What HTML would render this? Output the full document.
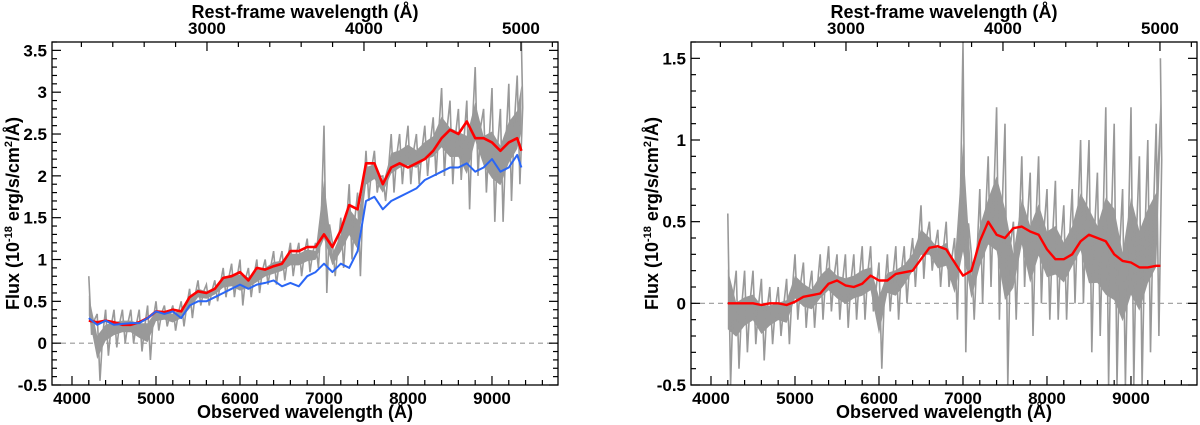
<!DOCTYPE html>
<html><head><meta charset="utf-8"><style>
body{margin:0;background:#fff;}
svg{display:block;font-family:"Liberation Sans",Arial,sans-serif;font-weight:bold;}
</style></head><body>
<svg id="c" width="1200" height="425" xmlns="http://www.w3.org/2000/svg"></svg>
<script>
// Left panel data (wavelength grid 4200..9300 step 100, then 9350 for lines)
const waves = [4200,4300,4400,4500,4600,4700,4800,4900,5000,5100,5200,5300,5400,5500,5600,5700,5800,5900,6000,6100,6200,6300,6400,6500,6600,6700,6800,6900,7000,7100,7200,7300,7400,7500,7600,7700,7800,7900,8000,8100,8200,8300,8400,8500,8600,8700,8800,8900,9000,9100,9200,9300];
const leftRed = [0.27,0.25,0.27,0.25,0.22,0.22,0.25,0.3,0.38,0.37,0.4,0.38,0.55,0.62,0.6,0.65,0.78,0.8,0.85,0.75,0.9,0.88,0.92,0.95,1.1,1.1,1.15,1.15,1.3,1.15,1.35,1.65,1.6,2.15,2.15,1.9,2.1,2.15,2.1,2.15,2.2,2.3,2.45,2.55,2.5,2.65,2.45,2.45,2.4,2.3,2.4,2.45];
const leftBlue = [0.3,0.22,0.27,0.22,0.23,0.24,0.24,0.3,0.38,0.35,0.38,0.3,0.45,0.5,0.5,0.55,0.6,0.65,0.7,0.65,0.7,0.72,0.75,0.68,0.72,0.68,0.8,0.85,0.95,0.85,0.95,0.9,1.1,1.7,1.75,1.6,1.7,1.75,1.8,1.85,1.95,2.0,2.05,2.1,2.1,2.15,2.05,2.1,2.2,2.05,2.1,2.25];
const leftRedEnd = 2.3, leftBlueEnd = 2.1;
const leftGrayUpper = [0.8,0.35,0.4,0.4,0.4,0.4,0.4,0.45,0.5,0.45,0.45,0.5,0.65,0.75,0.7,0.75,0.9,0.95,1.0,0.9,1.0,1.0,1.1,1.1,1.2,1.2,1.25,1.2,2.6,1.2,1.5,1.9,1.8,2.3,2.3,2.0,2.5,2.5,2.6,2.5,2.6,2.7,3.05,2.9,2.8,2.9,3.3,2.8,3.05,2.8,3.1,3.2,3.6];
const leftGrayLower = [0.1,-0.45,-0.15,-0.05,0.0,0.0,-0.1,-0.2,0.15,0.2,0.15,0.2,0.3,0.45,0.45,0.5,0.55,0.55,0.45,0.55,0.6,0.7,0.7,0.75,0.8,0.8,0.85,0.9,0.6,0.8,0.9,1.0,0.8,1.7,1.8,1.7,1.8,1.9,1.9,1.9,2.0,2.0,2.0,1.9,1.95,1.6,2.0,1.8,1.45,1.45,1.7,1.9,2.0];
// Right panel data
const rightRed = [0,0,0,0,-0.01,0,0,-0.01,0.01,0.04,0.05,0.06,0.12,0.14,0.11,0.1,0.12,0.17,0.14,0.14,0.18,0.19,0.2,0.27,0.34,0.35,0.33,0.25,0.17,0.2,0.38,0.5,0.42,0.4,0.46,0.47,0.44,0.42,0.33,0.27,0.27,0.3,0.38,0.42,0.4,0.38,0.3,0.26,0.25,0.22,0.22,0.23,0.24];
const rightRedEnd = 0.23;
const rightGrayUpper = [0.55,0.2,0.2,0.2,0.15,0.1,0.1,0.15,0.3,0.25,0.2,0.3,0.35,0.3,0.3,0.3,0.35,0.35,0.25,0.3,0.35,0.35,0.4,0.6,0.5,0.45,0.5,0.4,1.6,0.3,0.7,0.9,1.2,1.1,0.5,0.9,0.8,0.9,0.7,0.75,0.6,0.7,1.0,1.0,0.8,1.2,1.1,0.7,1.2,0.9,1.0,1.1,1.5];
const rightGrayLower = [-0.5,-0.4,-0.3,-0.25,-0.35,-0.25,-0.2,-0.25,-0.1,-0.15,-0.15,-0.1,-0.05,-0.1,-0.15,-0.1,-0.1,-0.05,-0.4,-0.05,-0.1,0.0,0.1,0.15,0.2,0.1,0.1,-0.1,-0.3,-0.1,0.0,0.1,-0.1,-0.5,-0.1,0.1,-0.2,0.0,-0.1,-0.1,-0.1,0.0,0.0,-0.3,-0.2,-0.5,-0.5,-0.5,-0.5,-0.5,-0.3,-0.2,0.7];
const xTicks = [4000,5000,6000,7000,8000,9000];
const restTicks = [3000,4000,5000];
const leftYTicks = [-0.5,0,0.5,1,1.5,2,2.5,3,3.5];
const leftYLabels = ["-0.5","0","0.5","1","1.5","2","2.5","3","3.5"];
const rightYTicks = [-0.5,0,0.5,1,1.5];
const rightYLabels = ["-0.5","0","0.5","1","1.5"];
const zfac = 1.869;

const NS="http://www.w3.org/2000/svg";
const svg=document.getElementById('c');
function mk(tag,attrs,parent){const e=document.createElementNS(NS,tag);for(const k in attrs)e.setAttribute(k,attrs[k]);(parent||svg).appendChild(e);return e;}

function panel(p){
  const g=mk('g',{});
  
  
  const L=p.L,R=p.R,T=42,B=385;
  const X=w=>L+(w-3762)/(9786-3762)*(R-L);
  const Y=v=>B-(v-p.ymin)/(p.ymax-p.ymin)*(B-T);
  const clip=mk('clipPath',{id:'clip'+p.L},g);mk('rect',{x:L,y:T,width:R-L,height:B-T},clip);
  const n=waves.length;
  const wv=i=>i<n?waves[i]:9350;
  // inner (dense) band: shrunk toward center
  let d='';
  for(let i=0;i<=n;i++){const u=p.gu[i],l=p.gl[i],c=(u+l)/2;d+=(i?'L':'M')+X(wv(i)).toFixed(1)+','+Y(c+(u-c)*0.35).toFixed(1);}
  for(let i=n;i>=0;i--){const u=p.gu[i],l=p.gl[i],c=(u+l)/2;d+='L'+X(wv(i)).toFixed(1)+','+Y(c-(c-l)*0.35).toFixed(1);}
  d+='Z';
  const band=mk('path',{d:d,fill:'#999',stroke:'none','clip-path':'url(#clip'+p.L+')'},g);
  
  
  // noisy zigzag: upper at sample, lower half-way to next sample
  let zz='';
  for(let i=0;i<n;i++){
    zz+=(i?'L':'M')+X(wv(i)).toFixed(1)+','+Y(p.gu[i]).toFixed(1);
    zz+='L'+X(wv(i)+33).toFixed(1)+','+Y(p.gl[i]).toFixed(1);
    zz+='L'+X(wv(i)+66).toFixed(1)+','+Y((p.gu[i]+p.gu[i+1])/2*0.6+(p.gl[i]+p.gl[i+1])/2*0.4).toFixed(1);
  }
  zz+='L'+X(9350).toFixed(1)+','+Y(p.gu[n]).toFixed(1);
  const zig=mk('path',{d:zz,fill:'none',stroke:'#999','stroke-width':1.6,'stroke-linejoin':'miter','clip-path':'url(#clip'+p.L+')'},g);
  
  
  // zero line
  const z=mk('line',{x1:L,x2:R,y1:Y(0),y2:Y(0),stroke:'#999','stroke-width':1.2,'stroke-dasharray':'5,4'},g);
  
  
  p.lines.forEach(ln=>{
    let dd='';
    waves.forEach((w,i)=>{dd+=(i?'L':'M')+X(w).toFixed(1)+','+Y(ln.v[i]).toFixed(1);});
    dd+='L'+X(9350).toFixed(1)+','+Y(ln.end).toFixed(1);
    const e=mk('path',{d:dd,fill:'none',stroke:ln.c,'stroke-width':ln.w,'stroke-linejoin':'round'},g);
    
    
  });
  const box=mk('rect',{x:L,y:T,width:R-L,height:B-T,fill:'none',stroke:'#000','stroke-width':1.3},g);
  
  
  for(let w=4000;w<=9700;w+=200){const x=X(w);const maj=w%1000===0;mk('line',{x1:x,x2:x,y1:B,y2:B-(maj?9:5),stroke:'#000','stroke-width':1.2},g);}
  xTicks.forEach(w=>{const t=mk('text',{x:X(w),y:B+19,'text-anchor':'middle','font-size':17},g);t.textContent=w;
    
    });
  for(let r=2200;r<=5200;r+=200){const x=X(r*zfac);if(x<L||x>R)continue;const maj=r%1000===0;mk('line',{x1:x,x2:x,y1:T,y2:T+(maj?9:5),stroke:'#000','stroke-width':1.2},g);}
  restTicks.forEach(r=>{const t=mk('text',{x:X(r*zfac),y:T-8,'text-anchor':'middle','font-size':17},g);t.textContent=r;
    
    });
  for(let v=p.ymin;v<=p.ymax+1e-6;v+=0.1){const y=Y(v);const maj=Math.abs(v*2-Math.round(v*2))<1e-6;
    mk('line',{x1:L,x2:L+(maj?9:5),y1:y,y2:y,stroke:'#000','stroke-width':1.2},g);
    mk('line',{x1:R,x2:R-(maj?9:5),y1:y,y2:y,stroke:'#000','stroke-width':1.2},g);}
  p.yt.forEach((v,i)=>{const t=mk('text',{x:L-5,y:Y(v)+6,'text-anchor':'end','font-size':17},g);t.textContent=p.yl[i];
    
    });
  const xt=mk('text',{x:(L+R)/2,y:418,'text-anchor':'middle','font-size':18},g);xt.textContent='Observed wavelength (Å)';
  
  
  const tt=mk('text',{x:(L+R)/2,y:18,'text-anchor':'middle','font-size':18},g);tt.textContent='Rest-frame wavelength (Å)';
  
  
  const yt=mk('text',{x:0,y:0,'text-anchor':'middle','font-size':18,transform:'translate('+(p.yx)+','+((T+B)/2)+') rotate(-90)'},g);
  yt.innerHTML='Flux (10<tspan dy="-7" font-size="11">-18</tspan><tspan dy="7"> erg/s/cm</tspan><tspan dy="-7" font-size="11">2</tspan><tspan dy="7">/Å)</tspan>';
  
  
}
panel({name:'left-panel',L:52,R:558,ymin:-0.5,ymax:3.6,gu:leftGrayUpper,gl:leftGrayLower,yt:leftYTicks,yl:leftYLabels,yx:19,
  lines:[{v:leftRed,end:leftRedEnd,c:'#ff0000',w:2.6,name:'red-model-line'},{v:leftBlue,end:leftBlueEnd,c:'#2a66f5',w:2,name:'blue-model-line'}]});
panel({name:'right-panel',L:691,R:1197,ymin:-0.5,ymax:1.6,gu:rightGrayUpper,gl:rightGrayLower,yt:rightYTicks,yl:rightYLabels,yx:658,
  lines:[{v:rightRed,end:rightRedEnd,c:'#ff0000',w:2.4,name:'red-smooth-line'}]});
</script>
</body></html>
